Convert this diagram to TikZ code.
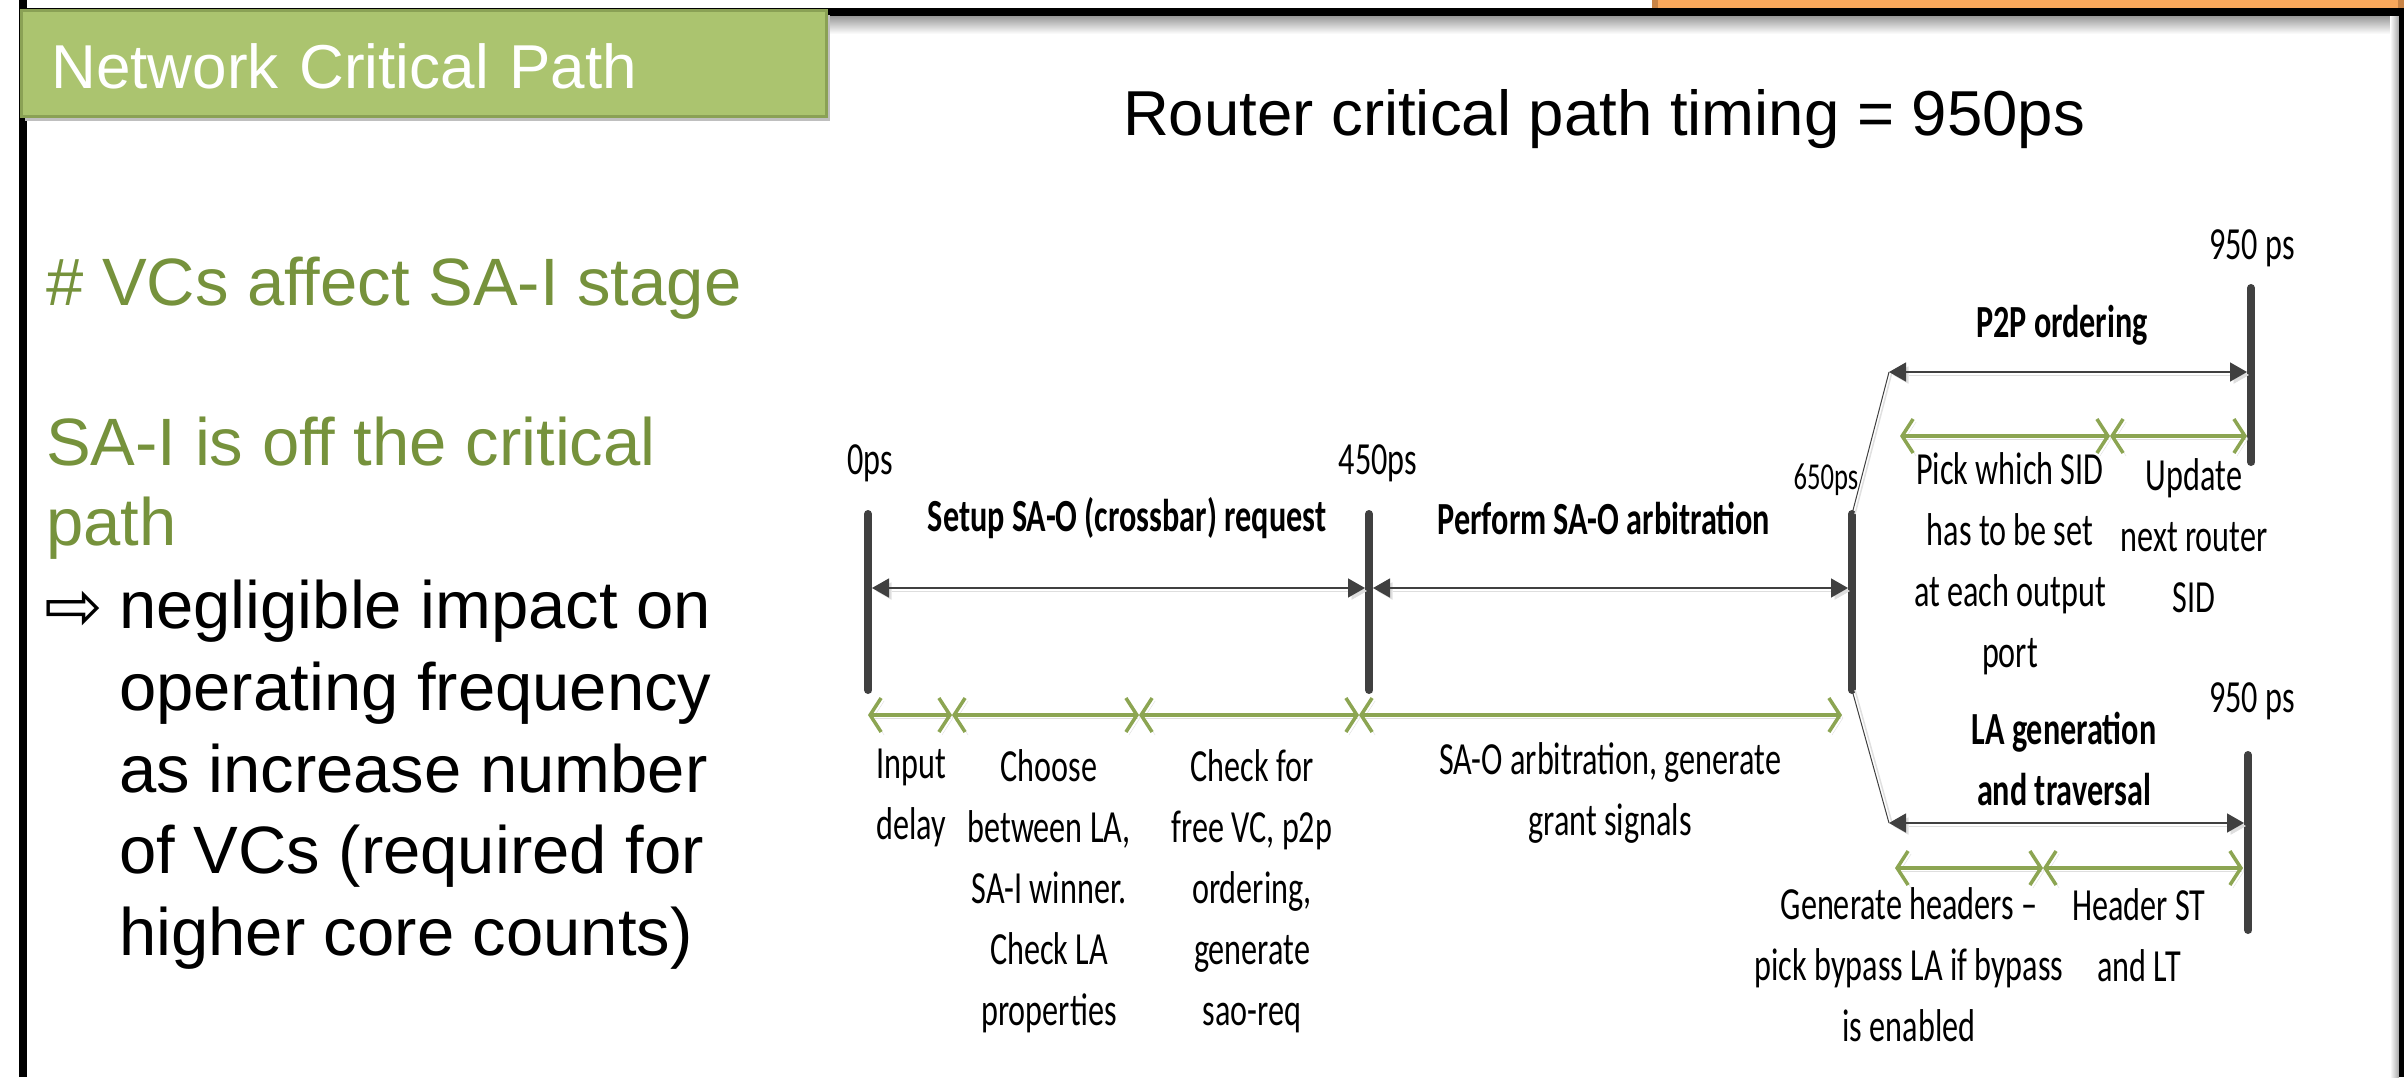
\documentclass[tikz,border=0pt]{standalone}
\usepackage{fontspec}
\setmainfont{Liberation Sans}
\newfontfamily\calib{Carlito}
\newfontfamily\dejavu{DejaVu Sans}
\usetikzlibrary{arrows.meta}
\definecolor{olive}{HTML}{76923C}
\definecolor{titlegreen}{HTML}{ABC46F}
\definecolor{titleedge}{HTML}{8AA155}
\definecolor{bargray}{HTML}{404040}
\definecolor{linegreen}{HTML}{8CA552}
\definecolor{orangebar}{HTML}{F9A85B}
\definecolor{orangeedge}{HTML}{C98445}
\begin{document}
\begin{tikzpicture}[x=1pt,y=-1pt,
  shad/.style={preaction={draw=black!13, transform canvas={shift={(3pt,-3pt)}}}},
  bar/.style={line width=8pt, line cap=round, draw=bargray, shad},
  dim/.style={draw=bargray, line width=1.5pt, {Triangle[length=17pt,width=19pt]}-{Triangle[length=17pt,width=19pt]}, shad},
  gseg/.style={draw=linegreen, line width=3.5pt, {Straight Barb[length=11pt,width=34pt]}-{Straight Barb[length=11pt,width=34pt]}, shad},
  thinline/.style={draw=bargray, line width=1pt, preaction={draw=black!12, line width=1.5pt, transform canvas={shift={(3pt,0pt)}}}},
  dlab/.style={font=\calib\fontsize{46}{61}\selectfont, xscale=0.7, align=center, inner sep=0pt},
  dbold/.style={font=\calib\bfseries\fontsize{46}{61}\selectfont, xscale=0.7, align=center, inner sep=0pt},
  slide/.style={font=\fontsize{67}{80}\selectfont, anchor=base west, inner sep=0pt},
  titlebox/.style={fill=titlegreen, draw=titleedge, line width=3pt, text=white,
    font=\fontsize{62}{74}\selectfont, anchor=north west, text width=745pt, inner xsep=30pt,
    minimum height=106pt, text height=50pt, text depth=0pt, align=left,
    preaction={fill=black!25, transform canvas={shift={(3pt,-4pt)}}}}
]
\useasboundingbox (0,0) rectangle (2404,1077);
\fill[white] (0,0) rectangle (2404,1077);

% frame
\fill[orangebar] (1652,0) rectangle (2404,8);
\fill[orangeedge] (1652,0) rectangle (1658,8);
\fill[orangeedge] (2398,0) rectangle (2404,8);
\shade[top color=black!40, bottom color=white] (27,16) rectangle (2398,34);
\shade[left color=white, right color=black!35] (2390,16) rectangle (2399,1077);
\fill[black] (19,8) rectangle (2404,16);
\fill[black] (19,0) rectangle (27,1077);
\fill[black] (2399,8) rectangle (2404,1077);

% title
\node[titlebox] (title) at (20,9) {Network Critical Path};
\node[font=\fontsize{63.5}{74}\selectfont, anchor=base, inner sep=0pt] (router) at (1604,135) {Router critical path timing = 950ps};

% left text
\node[slide, text=olive] (vc) at (46,305) {\# VCs affect SA-I stage};
\node[slide, text=olive] (sai1) at (46,465) {SA-I is off the critical};
\node[slide, text=olive] (sai2) at (46,545) {path};
\node[slide, font=\dejavu\fontsize{70}{80}\selectfont] (arr) at (44,630) {⇨};
\node[slide] (b1) at (119,628) {negligible impact on};
\node[slide] (b2) at (119,710) {operating frequency};
\node[slide] (b3) at (119,792) {as increase number};
\node[slide] (b4) at (119,873) {of VCs (required for};
\node[slide] (b5) at (119,955) {higher core counts)};

% coordinates
\coordinate (b0t) at (868,514);  \coordinate (b0b) at (868,690);
\coordinate (b450t) at (1369,514); \coordinate (b450b) at (1369,690);
\coordinate (b650t) at (1852,514); \coordinate (b650b) at (1852,690);
\coordinate (b950at) at (2251,288); \coordinate (b950ab) at (2251,462);
\coordinate (b950bt) at (2248,755); \coordinate (b950bb) at (2248,930);

\coordinate (d0) at (872,588); \coordinate (d450l) at (1365,588);
\coordinate (d450r) at (1373,588); \coordinate (d650) at (1848,588);
\coordinate (p2pL) at (1889,372); \coordinate (p2pR) at (2247,372);
\coordinate (laL) at (1889,823); \coordinate (laR) at (2244,823);

\coordinate (g0) at (868,715); \coordinate (g1) at (952,715);
\coordinate (g2) at (1139,715); \coordinate (g3) at (1359,715);
\coordinate (g4) at (1842,715);
\coordinate (u0) at (1900,436); \coordinate (u1) at (2110,436); \coordinate (u2) at (2247,436);
\coordinate (w0) at (1895,868); \coordinate (w1) at (2043,868); \coordinate (w2) at (2243,868);

% bars
\draw[bar] (b0t) -- (b0b);
\draw[bar] (b450t) -- (b450b);
\draw[bar] (b650t) -- (b650b);
\draw[bar] (b950at) -- (b950ab);
\draw[bar] (b950bt) -- (b950bb);

% diagonal connectors
\draw[thinline] (b650t) -- (p2pL);
\draw[thinline] (b650b) -- (laL);

% dimension arrows
\draw[dim] (d0) -- (d450l);
\draw[dim] (d450r) -- (d650);
\draw[dim] (p2pL) -- (p2pR);
\draw[dim] (laL) -- (laR);

% green segments
\draw[gseg] (g0) -- (g1);
\draw[gseg] (g1) -- (g2);
\draw[gseg] (g2) -- (g3);
\draw[gseg] (g3) -- (g4);
\draw[gseg] (u0) -- (u1);
\draw[gseg] (u1) -- (u2);
\draw[gseg] (w0) -- (w1);
\draw[gseg] (w1) -- (w2);

% labels
\node[dlab] (l0) at (870,463) {0ps};
\node[dlab] (l450) at (1378,463) {450ps};
\node[dlab, font=\calib\fontsize{38}{46}\selectfont] (l650) at (1826,480) {650ps};
\node[dbold] (setup) at (1127,518) {Setup SA-O (crossbar) request};
\node[dbold] (perform) at (1604,518) {Perform SA-O arbitration};
\node[dbold] (p2p) at (2062,325) {P2P ordering};
\node[dlab] (l950a) at (2252,248) {950 ps};
\node[dlab] (pick) at (2010,564) {Pick which SID\\has to be set\\at each output\\port};
\node[dlab] (update) at (2194,536) {Update\\next router\\SID};
\node[dlab] (l950b) at (2252,701) {950 ps};
\node[dbold] (lagen) at (2064,759) {LA generation\\and traversal};
\node[dlab] (genh) at (1909,965) {Generate headers –\\pick bypass LA if bypass\\is enabled};
\node[dlab] (hst) at (2139,935) {Header ST\\and LT};
\node[dlab] (input) at (911,798) {Input\\delay};
\node[dlab] (choose) at (1049,891) {Choose\\between LA,\\SA-I winner.\\Check LA\\properties};
\node[dlab] (check) at (1252,891) {Check for\\free VC, p2p\\ordering,\\generate\\sao-req};
\node[dlab] (saoarb) at (1610,793) {SA-O arbitration, generate\\grant signals};
\end{tikzpicture}
\end{document}
